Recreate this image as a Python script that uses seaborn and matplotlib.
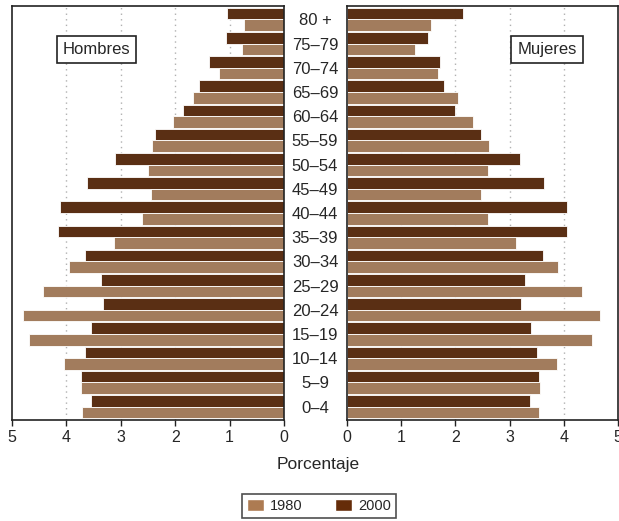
import matplotlib.pyplot as plt
import pandas as pd
import seaborn as sns
from matplotlib.patches import Patch

# Population by age group (percent)
ages = ['80 +', '75–79', '70–74', '65–69', '60–64', '55–59', '50–54', '45–49', '40–44',
        '35–39', '30–34', '25–29', '20–24', '15–19', '10–14', '5–9', '0–4']
men_1980 = [0.73, 0.77, 1.20, 1.67, 2.04, 2.42, 2.50, 2.45, 2.61,
            3.13, 3.95, 4.43, 4.79, 4.69, 4.05, 3.73, 3.72]
men_2000 = [1.04, 1.06, 1.38, 1.56, 1.85, 2.37, 3.10, 3.62, 4.11,
            4.15, 3.66, 3.36, 3.33, 3.55, 3.66, 3.73, 3.55]
women_1980 = [1.55, 1.25, 1.67, 2.04, 2.32, 2.62, 2.61, 2.48, 2.61,
              3.11, 3.90, 4.34, 4.67, 4.52, 3.88, 3.56, 3.54]
women_2000 = [2.14, 1.50, 1.72, 1.79, 2.00, 2.48, 3.19, 3.63, 4.06,
              4.06, 3.61, 3.29, 3.21, 3.39, 3.50, 3.55, 3.37]
years = ['1980', '2000']
colors = {'1980': '#AD7B52', '2000': '#652C09'}

def long_df(v1980, v2000):
    return pd.DataFrame({
        'edad': ages * 2,
        'anio': ['1980'] * len(ages) + ['2000'] * len(ages),
        'valor': v1980 + v2000,
    })

sns.set_style('white')
plt.rcParams['font.family'] = ['Liberation Sans Narrow', 'Liberation Sans', 'DejaVu Sans']
plt.rcParams['axes.edgecolor'] = '#222222'
plt.rcParams['axes.linewidth'] = 1.2

fig = plt.figure(figsize=(6.19, 5.21), dpi=100)
ax_m = fig.add_axes([12 / 619, 1 - 420 / 521, 272 / 619, 414 / 521])
ax_w = fig.add_axes([347 / 619, 1 - 420 / 521, 271 / 619, 414 / 521])

for ax, v80, v00 in [(ax_m, men_1980, men_2000), (ax_w, women_1980, women_2000)]:
    sns.barplot(data=long_df(v80, v00), y='edad', x='valor', hue='anio',
                order=ages, hue_order=['2000', '1980'], palette=colors,
                orient='h', width=0.96, edgecolor='white', linewidth=0.6,
                legend=False, ax=ax)
    ax.set_xlabel('')
    ax.set_ylabel('')
    ax.set_ylim(16.55, -0.55)
    ax.set_xticks(range(6))
    ax.set_xticklabels([str(i) for i in range(6)], fontsize=11.5)
    ax.tick_params(axis='x', direction='out', length=4, width=1, color='#222222',
                   bottom=True, pad=3)
    for g in [1, 2, 3, 4]:
        ax.axvline(g, color='#b0b0b0', linestyle=(0, (1, 3)), linewidth=1, zorder=0)
    ax.set_axisbelow(True)

ax_m.set_xlim(5, 0)
ax_m.set_yticks([])
ax_w.set_xlim(0, 5)
ax_w.set_yticks(range(len(ages)))
ax_w.set_yticklabels(ages, ha='center', fontsize=12)
ax_w.tick_params(axis='y', length=0, pad=23)

fig.text(96.5 / 619, 1 - 49.5 / 521, 'Hombres', ha='center', va='center', fontsize=12,
         bbox=dict(boxstyle='square,pad=0.35', facecolor='white', edgecolor='#222222', linewidth=1.2))
fig.text(547 / 619, 1 - 49.5 / 521, 'Mujeres', ha='center', va='center', fontsize=12,
         bbox=dict(boxstyle='square,pad=0.35', facecolor='white', edgecolor='#222222', linewidth=1.2))
fig.text(318 / 619, 1 - 465 / 521, 'Porcentaje', ha='center', va='center', fontsize=12.5)

handles = [Patch(facecolor=colors[y], label=y) for y in years]
leg = fig.legend(handles=handles, loc='center', bbox_to_anchor=(319 / 619, 1 - 506 / 521),
                 ncol=2, frameon=True, fancybox=False, edgecolor='#222222', fontsize=10.5,
                 handlelength=1.2, handleheight=0.9, columnspacing=2.2, handletextpad=0.4,
                 borderpad=0.35)
leg.get_frame().set_linewidth(1.2)

fig.savefig('out.png', dpi=100)
